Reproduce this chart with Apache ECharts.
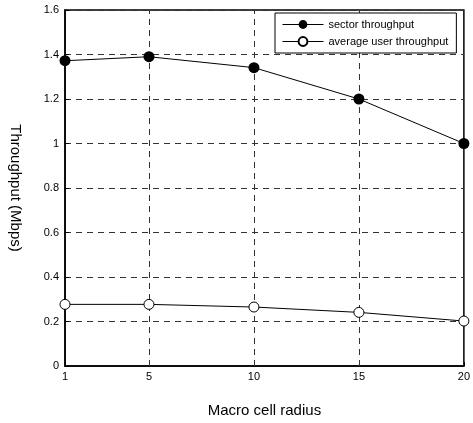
<!DOCTYPE html>
<html style="height: 100%">
<head>
    <meta charset="utf-8">
    <script src="https://cdn.jsdelivr.net/npm/echarts@6/dist/echarts.min.js"></script>
</head>
<body style="height: 100%; margin: 0; background: #fff">
    <div id="container" style="width: 473px; height: 423px"></div>
    <script type="text/javascript">

        // macro cell radius values on the x axis
        let radius = [1, 5, 10, 15, 20];
        let xTicks = [1, 5, 10, 15, 20];
        let xGrid = [5, 10, 15];

        // throughput in Mbps
        let sectorThroughput = [1.372, 1.39, 1.341, 1.2, 1.0];
        let userThroughput = [0.277, 0.277, 0.265, 0.241, 0.202];

        let toPairs = vals => radius.map((r, i) => [r, vals[i]]);

        let dashed = { color: '#333', width: 1, type: [6, 5] };
        let font = 'Liberation Sans, Arial, sans-serif';

        let dom = document.getElementById("container");
        let chart = echarts.init(dom);
        chart.setOption({
            animation: false,
            backgroundColor: '#fff',
            textStyle: { fontFamily: font },
            grid: {
                left: 62, top: 10, right: 6, bottom: 57,
                show: true,
                borderColor: '#000',
                borderWidth: 1.5
            },
            legend: {
                orient: 'vertical',
                left: 275, top: 13,
                padding: [6, 8, 6, 7],
                itemGap: 6,
                itemWidth: 41,
                itemHeight: 11,
                backgroundColor: '#fff',
                borderColor: '#000',
                borderWidth: 1,
                lineStyle: { width: 1 },
                textStyle: { fontSize: 11, color: '#000', fontFamily: font }
            },
            xAxis: {
                type: 'value',
                min: 1, max: 20,
                name: 'Macro cell radius',
                nameLocation: 'middle',
                nameGap: 37,
                nameTextStyle: { fontSize: 15, color: '#000', fontFamily: font },
                axisLine: { lineStyle: { color: '#000', width: 1.5 } },
                axisTick: { inside: true, length: 4, customValues: xTicks, lineStyle: { color: '#000' } },
                axisLabel: { customValues: xTicks, fontSize: 11, color: '#000', margin: 5 },
                splitLine: { show: false }
            },
            yAxis: {
                type: 'value',
                min: 0, max: 1.6, interval: 0.2,
                name: 'Throughput (Mbps)',
                nameLocation: 'middle',
                nameRotate: -90,
                nameGap: 42,
                nameTextStyle: { fontSize: 15, color: '#000', fontFamily: font },
                axisLine: { show: true, lineStyle: { color: '#000', width: 1.5 } },
                axisTick: { show: true, inside: true, length: 4, lineStyle: { color: '#000' } },
                axisLabel: { fontSize: 11, color: '#000', margin: 6 },
                splitLine: { show: true, lineStyle: dashed }
            },
            series: [
                {
                    name: 'sector throughput',
                    type: 'line',
                    data: toPairs(sectorThroughput),
                    symbol: 'circle',
                    symbolSize: 11,
                    itemStyle: { color: '#000' },
                    lineStyle: { color: '#000', width: 1 },
                    z: 5,
                    markLine: {
                        silent: true,
                        symbol: 'none',
                        label: { show: false },
                        lineStyle: dashed,
                        z: 1,
                        data: xGrid.map(v => ({ xAxis: v }))
                    }
                },
                {
                    name: 'average user throughput',
                    type: 'line',
                    data: toPairs(userThroughput),
                    symbol: 'circle',
                    symbolSize: 10,
                    itemStyle: { color: '#fff', borderColor: '#000', borderWidth: 1 },
                    lineStyle: { color: '#000', width: 1 },
                    z: 5
                }
            ]
        });

    </script>
</body>
</html>
